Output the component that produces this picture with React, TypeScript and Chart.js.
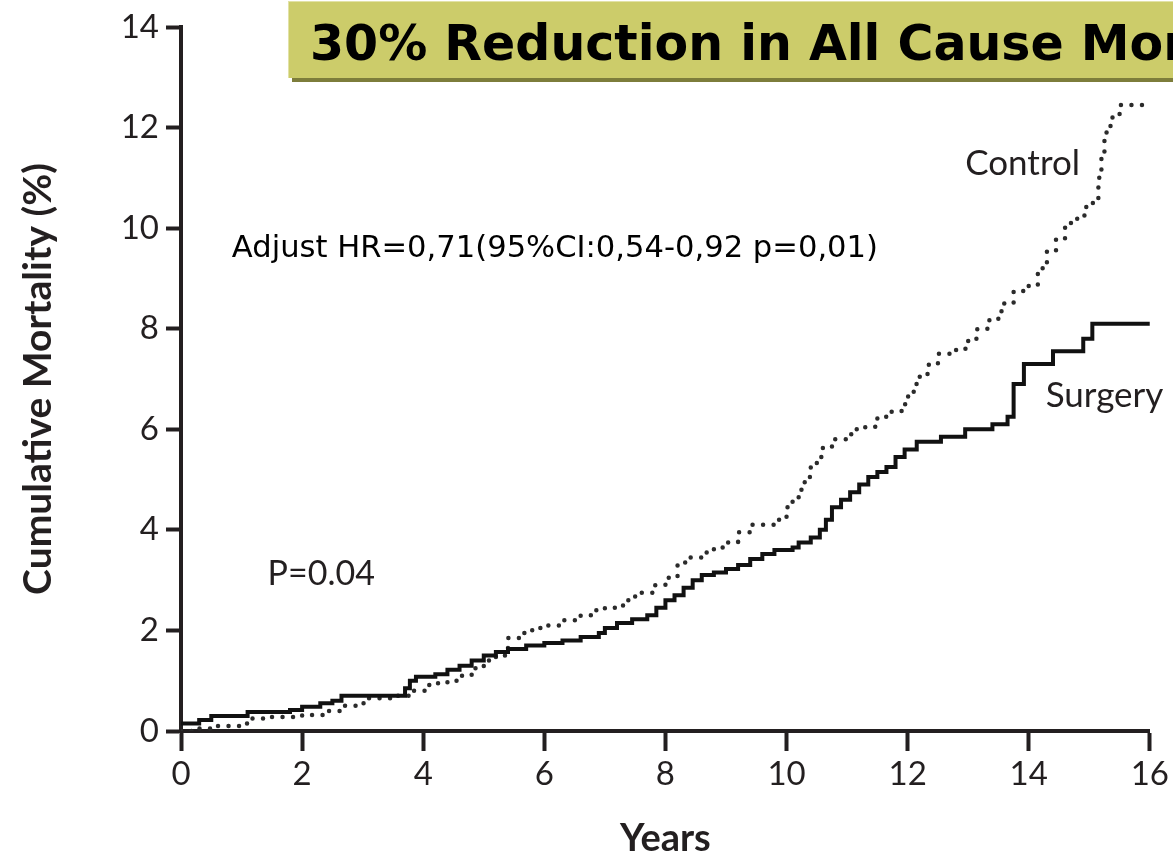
import { useEffect, useRef } from "react";
import { Chart, registerables } from "chart.js";

Chart.register(...registerables);

// Kaplan–Meier estimates (years of follow-up, cumulative mortality %)
const surgeryYears = [
  0, 0.3, 0.5, 1.1, 1.8, 2.0, 2.3, 2.5, 2.65, 3.7, 3.78, 3.88, 4.2, 4.4, 4.6, 4.8,
  5.0, 5.2, 5.4, 5.7, 6.0, 6.3, 6.6, 6.9, 7.0, 7.2, 7.45, 7.7, 7.85, 8.0, 8.15, 8.3,
  8.45, 8.6, 8.8, 9.0, 9.2, 9.4, 9.6, 9.8, 10.1, 10.2, 10.4, 10.55, 10.65, 10.75,
  10.9, 11.05, 11.2, 11.35, 11.5, 11.65, 11.8, 11.95, 12.15, 12.55, 12.95, 13.4,
  13.65, 13.75, 13.92, 14.4, 14.9, 15.05, 16.0,
];
const surgeryPct = [
  0.15, 0.22, 0.3, 0.38, 0.42, 0.48, 0.55, 0.6, 0.7, 0.85, 1.0, 1.08, 1.13, 1.22, 1.3, 1.4,
  1.5, 1.57, 1.63, 1.7, 1.75, 1.8, 1.87, 1.95, 2.05, 2.15, 2.22, 2.3, 2.45, 2.6, 2.7, 2.85,
  3.0, 3.1, 3.15, 3.22, 3.3, 3.42, 3.52, 3.6, 3.65, 3.75, 3.85, 4.0, 4.2, 4.45,
  4.6, 4.75, 4.9, 5.05, 5.15, 5.25, 5.45, 5.6, 5.75, 5.85, 6.0, 6.1,
  6.25, 6.9, 7.3, 7.55, 7.8, 8.1, 8.1,
];

const controlYears = [
  0, 0.3, 0.6, 1.0, 1.1, 1.5, 2.0, 2.4, 2.7, 2.9, 3.1, 3.5, 3.8, 4.1, 4.4, 4.6, 4.8,
  5.0, 5.2, 5.4, 5.6, 5.8, 6.0, 6.3, 6.6, 6.8, 7.0, 7.3, 7.5, 7.8, 8.0, 8.2, 8.4, 8.6,
  8.8, 9.0, 9.2, 9.4, 9.8, 10.0, 10.1, 10.2, 10.3, 10.4, 10.5, 10.6, 10.75, 11.0,
  11.1, 11.3, 11.5, 11.7, 11.9, 12.0, 12.1, 12.2, 12.35, 12.5, 12.8, 13.0, 13.15,
  13.35, 13.55, 13.75, 13.95, 14.15, 14.3, 14.45, 14.6, 14.8, 14.95, 15.1, 15.15,
  15.2, 15.25, 15.35, 15.5, 16.0,
];
const controlPct = [
  0, 0.05, 0.1, 0.15, 0.25, 0.28, 0.32, 0.4, 0.5, 0.55, 0.65, 0.7, 0.8, 0.95, 1.0, 1.1, 1.25,
  1.4, 1.5, 1.85, 1.95, 2.05, 2.1, 2.2, 2.3, 2.4, 2.45, 2.6, 2.75, 2.9, 3.05, 3.35, 3.45, 3.55,
  3.65, 3.75, 3.95, 4.1, 4.2, 4.45, 4.6, 4.8, 5.05, 5.25, 5.45, 5.65, 5.8, 5.9,
  6.0, 6.05, 6.25, 6.35, 6.5, 6.65, 6.9, 7.1, 7.3, 7.5, 7.6, 7.8, 8.0,
  8.2, 8.5, 8.75, 8.85, 9.2, 9.55, 9.8, 10.1, 10.25, 10.5, 10.6, 11.0,
  11.5, 11.9, 12.2, 12.45, 12.45,
];

const xTickValues = [0, 2, 4, 6, 8, 10, 12, 14, 16];
const yTickValues = [0, 2, 4, 6, 8, 10, 12, 14];

const titleText = "30% Reduction in All Cause Mortality";
const hrText = "Adjust HR=0,71(95%CI:0,54-0,92 p=0,01)";
const pText = "P=0.04";

// In-plot annotations, anchored in data units (left edge, baseline)
const notes = [
  { text: "Control", x: 12.95, y: 11.05, font: "35px Lato", color: "#231f20" },
  { text: "Surgery", x: 14.28, y: 6.45, font: "35px Lato", color: "#231f20" },
  { text: pText, x: 1.43, y: 2.9, font: "34px Lato", color: "#231f20" },
  { text: hrText, x: 0.84, y: 9.42, font: "30.6px 'DejaVu Sans'", color: "#000000" },
];

const ink = "#231f20";

const notesPlugin = {
  id: "notes",
  afterDatasetsDraw(chart: any) {
    const { ctx, scales } = chart;
    ctx.save();
    ctx.textAlign = "left";
    ctx.textBaseline = "alphabetic";
    for (const n of notes) {
      ctx.font = n.font;
      ctx.fillStyle = n.color;
      ctx.fillText(n.text, scales.x.getPixelForValue(n.x), scales.y.getPixelForValue(n.y));
    }
    ctx.restore();
  },
};

function toPoints(xs: number[], ys: number[]) {
  return xs.map((x, i) => ({ x, y: ys[i] }));
}

export default function App() {
  const canvasRef = useRef<HTMLCanvasElement | null>(null);

  useEffect(() => {
    const canvas = canvasRef.current;
    if (!canvas) return;
    const chart = new Chart(canvas, {
      type: "line",
      data: {
        datasets: [
          {
            label: "Surgery",
            data: toPoints(surgeryYears, surgeryPct),
            stepped: true,
            borderColor: "#111111",
            borderWidth: 4,
            pointRadius: 0,
            fill: false,
          },
          {
            label: "Control",
            data: toPoints(controlYears, controlPct),
            stepped: true,
            borderColor: "#2b2b2b",
            borderWidth: 4.5,
            borderDash: [0.01, 10.5],
            borderCapStyle: "round",
            pointRadius: 0,
            fill: false,
          },
        ],
      },
      options: {
        animation: false,
        responsive: false,
        devicePixelRatio: 1,
        events: [],
        layout: { padding: { top: 27, right: 23, left: 0, bottom: 0 } },
        plugins: {
          legend: { display: false },
          tooltip: { enabled: false },
        },
        scales: {
          x: {
            type: "linear",
            min: 0,
            max: 16,
            afterBuildTicks: (scale: any) => {
              scale.ticks = xTickValues.map((v) => ({ value: v }));
            },
            afterFit: (scale: any) => {
              scale.height = 127;
            },
            ticks: {
              font: { family: "Lato", size: 33 },
              color: ink,
              padding: 4,
              maxRotation: 0,
              autoSkip: false,
            },
            grid: {
              display: true,
              drawOnChartArea: false,
              drawTicks: true,
              tickLength: 20,
              tickWidth: 4,
              tickColor: ink,
            },
            border: { display: true, width: 4, color: ink },
            title: {
              display: true,
              text: "Years",
              font: { family: "Lato", size: 38, weight: "bold", lineHeight: 1.0 },
              color: ink,
              padding: { top: 0, bottom: 0 },
            },
          },
          y: {
            type: "linear",
            min: 0,
            max: 14,
            afterBuildTicks: (scale: any) => {
              scale.ticks = yTickValues.map((v) => ({ value: v }));
            },
            afterFit: (scale: any) => {
              scale.width = 181;
            },
            ticks: {
              font: { family: "Lato", size: 33 },
              color: ink,
              padding: 7,
              autoSkip: false,
            },
            grid: {
              display: true,
              drawOnChartArea: false,
              drawTicks: true,
              tickLength: 15,
              tickWidth: 4,
              tickColor: ink,
            },
            border: { display: true, width: 4, color: ink },
            title: {
              display: true,
              text: "Cumulative Mortality (%)",
              font: { family: "Lato", size: 39, weight: "bold", lineHeight: 1.0 },
              color: ink,
              padding: { top: 19, bottom: 0 },
            },
          },
        },
      },
      plugins: [notesPlugin],
    });
    return () => chart.destroy();
  }, []);

  return (
    <div
      style={{
        position: "fixed",
        left: 0,
        top: 0,
        width: 1173,
        height: 858,
        overflow: "hidden",
        background: "#ffffff",
      }}
    >
      <canvas
        ref={canvasRef}
        width={1173}
        height={858}
        style={{ position: "absolute", left: 0, top: 0, width: 1173, height: 858 }}
      />
      <div
        style={{
          position: "absolute",
          left: 288,
          top: 1,
          width: 1000,
          height: 77,
          background: "#cccc6a",
          borderTop: "1px solid #e2e2a6",
          borderLeft: "1px solid #e2e2a6",
          boxShadow: "4px 4px 0 #7d7d3b",
          boxSizing: "border-box",
        }}
      >
        <div
          style={{
            position: "absolute",
            left: 21,
            top: 4,
            whiteSpace: "nowrap",
            font: "bold 49px 'DejaVu Sans'",
            lineHeight: "76px",
            color: "#000000",
          }}
        >
          {titleText}
        </div>
      </div>
    </div>
  );
}
